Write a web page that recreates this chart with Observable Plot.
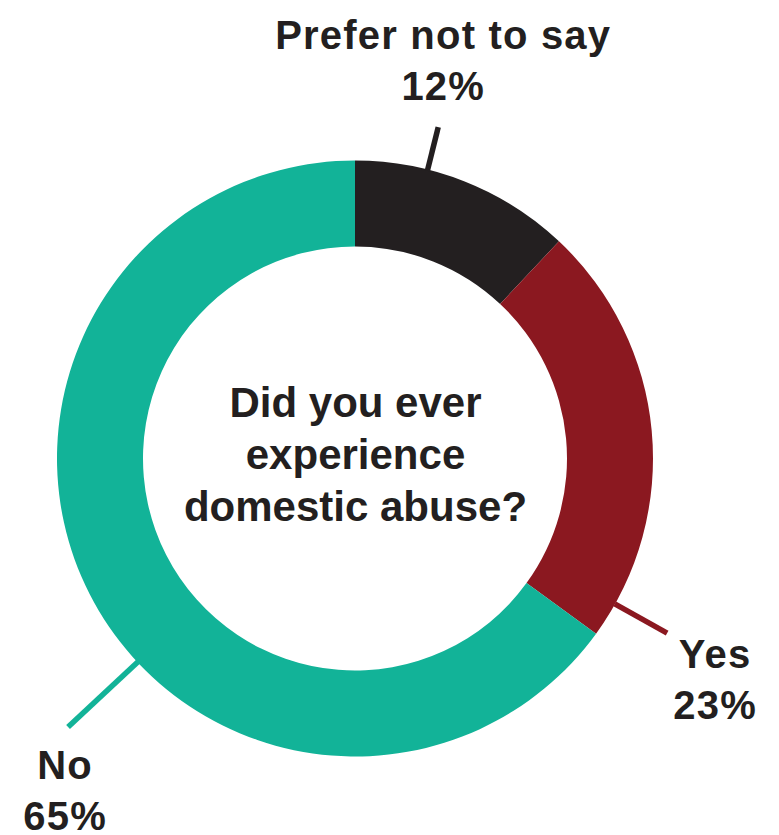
<!DOCTYPE html>
<html>
<head>
<meta charset="utf-8">
<script src="https://cdn.jsdelivr.net/npm/d3@7"></script>
<script src="https://cdn.jsdelivr.net/npm/@observablehq/plot@0.6"></script>
<style>
  html, body { margin: 0; padding: 0; background: #ffffff; }
  #chart { width: 779px; height: 835px; }
</style>
</head>
<body>
<div id="chart"></div>
<script>
// ---- data ----
const categories = ["Prefer not to say", "Yes", "No"];
const values = [12, 23, 65];
const colors = ["#231f20", "#8b1820", "#12b398"];
const question = ["Did you ever", "experience", "domestic abuse?"];

// ---- layout (annotation geometry, in chart units centred on the donut) ----
const outerR = 298, innerR = 212;
const leaderAngle = [14, 119.2, 227];       // degrees clockwise from 12 o'clock
const leaderEnd = [342, 357, 393];          // radius where leader ends
const labelDx = [5, 48, -3];                // label offset from leader end
const labelDy = [-78, 35, 52];              // baseline of first label line
const lineGap = 51;

const data = categories.map((c, i) => ({category: c, value: values[i], color: colors[i]}));
const rad = a => a * Math.PI / 180;
const px = (r, a) => r * Math.sin(rad(a));
const py = (r, a) => -r * Math.cos(rad(a));

const leaders = data.map((d, i) => ({
  ...d,
  x1: px(outerR - 1, leaderAngle[i]), y1: py(outerR - 1, leaderAngle[i]),
  x2: px(leaderEnd[i], leaderAngle[i]), y2: py(leaderEnd[i], leaderAngle[i])
}));

const labelLines = [];
leaders.forEach((d, i) => {
  const lx = d.x2 + labelDx[i], ly = d.y2 + labelDy[i];
  labelLines.push({x: lx, y: ly, text: d.category});
  labelLines.push({x: lx, y: ly + lineGap, text: d.value + "%"});
});

const questionLines = question.map((t, i) => ({x: 0, y: -42 + i * 52, text: t}));

function donut(index, {x, y}) {
  const cx = x(0), cy = y(0);
  const R = x(outerR) - x(0), r = x(innerR) - x(0);
  const pie = d3.pie().sort(null).value(d => d.value).startAngle(0).endAngle(2 * Math.PI);
  const arc = d3.arc().innerRadius(r).outerRadius(R);
  const g = d3.create("svg:g").attr("transform", `translate(${cx},${cy})`);
  g.selectAll("path").data(pie(data)).join("path")
    .attr("d", arc).attr("fill", d => d.data.color);
  return g.node();
}

const chart = Plot.plot({
  width: 779,
  height: 835,
  margin: 0,
  x: {domain: [-355, 424], range: [0, 779], axis: null},
  y: {domain: [-458.5, 376.5], range: [0, 835], axis: null},
  style: {background: "#ffffff"},
  marks: [
    donut,
    Plot.link(leaders, {
      x1: "x1", y1: "y1", x2: "x2", y2: "y2",
      stroke: "color", strokeWidth: 5.5, strokeLinecap: "butt"
    }),
    Plot.text(labelLines, {
      x: "x", y: "y", text: "text",
      fill: "#231f20", fontSize: 40, fontWeight: 700,
      fontFamily: "'Liberation Sans', Arial, sans-serif",
      textAnchor: "middle", lineAnchor: "bottom"
    }),
    Plot.text(questionLines, {
      x: "x", y: "y", text: "text",
      fill: "#231f20", fontSize: 42, fontWeight: 700,
      fontFamily: "'Liberation Sans', Arial, sans-serif",
      textAnchor: "middle", lineAnchor: "bottom"
    })
  ]
});
chart.setAttribute("color", "#231f20");
const labelTexts = new Set(labelLines.map(d => d.text));
d3.select(chart).selectAll("text")
  .filter(function () { return labelTexts.has(this.textContent); })
  .style("letter-spacing", "1.2px");
document.getElementById("chart").append(chart);
</script>
</body>
</html>
